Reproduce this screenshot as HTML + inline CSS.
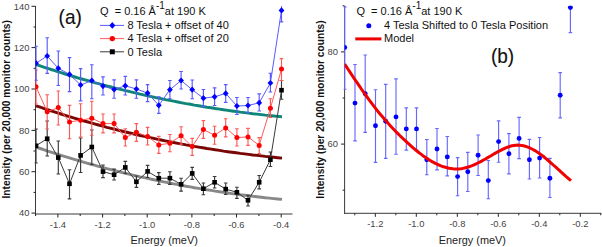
<!DOCTYPE html>
<html><head><meta charset="utf-8"><style>
html,body{margin:0;padding:0;background:#fff;width:602px;height:247px;overflow:hidden}
svg{display:block}
text{font-family:"Liberation Sans",sans-serif;fill:#111}
.tk{font-size:9.4px;fill:#444}
.al{font-size:10.9px;fill:#222}
.yl{font-size:10.2px;font-weight:bold;fill:#111}
.lg{font-size:11px;fill:#111}
.pl{font-size:20px;fill:#111;stroke:#111;stroke-width:0.15px}
</style></head><body>
<svg width="602" height="247" viewBox="0 0 602 247">
<defs><clipPath id="cl"><rect x="35.5" y="6.3" width="262" height="207.7"/></clipPath><clipPath id="cl2"><rect x="34.5" y="6.3" width="262" height="207.7"/></clipPath><clipPath id="cr2"><rect x="343.6" y="5.8" width="258" height="208"/></clipPath><clipPath id="cr"><rect x="344.6" y="5.8" width="258" height="208"/></clipPath></defs>
<path d="M35.5,6V214.5M35,214H292.5" stroke="#3a3a3a" stroke-width="1" fill="none"/>
<path d="M31.5,213.1H35.5M33.5,192.4H35.5M31.5,171.7H35.5M33.5,151.0H35.5M31.5,130.4H35.5M33.5,109.7H35.5M31.5,89.0H35.5M33.5,68.3H35.5M31.5,47.6H35.5M33.5,27.0H35.5M31.5,6.3H35.5M35.6,214V216M57.9,214V217.5M80.2,214V216M102.6,214V217.5M124.9,214V216M147.2,214V217.5M169.6,214V216M191.9,214V217.5M214.2,214V216M236.5,214V217.5M258.9,214V216M281.2,214V217.5" stroke="#222" stroke-width="1" fill="none"/>
<text x="29.5" y="216.2" text-anchor="end" class="tk">40</text>
<text x="29.5" y="174.9" text-anchor="end" class="tk">60</text>
<text x="29.5" y="133.6" text-anchor="end" class="tk">80</text>
<text x="29.5" y="92.2" text-anchor="end" class="tk">100</text>
<text x="29.5" y="50.9" text-anchor="end" class="tk">120</text>
<text x="29.5" y="9.5" text-anchor="end" class="tk">140</text>
<text x="57.9" y="227.5" text-anchor="middle" class="tk">-1.4</text>
<text x="102.6" y="227.5" text-anchor="middle" class="tk">-1.2</text>
<text x="147.2" y="227.5" text-anchor="middle" class="tk">-1.0</text>
<text x="191.9" y="227.5" text-anchor="middle" class="tk">-0.8</text>
<text x="236.5" y="227.5" text-anchor="middle" class="tk">-0.6</text>
<text x="281.2" y="227.5" text-anchor="middle" class="tk">-0.4</text>
<text x="164.2" y="244" text-anchor="middle" class="al">Energy (meV)</text>
<text transform="translate(10.3,109.3) rotate(-90)" text-anchor="middle" class="yl">Intensity (per 20,000 monitor counts)</text>
<text transform="translate(58.6,24.0) scale(0.95,1)" class="pl">(a)</text>
<g clip-path="url(#cl)"><path d="M36.0,64.5 L40.2,65.9 L44.3,67.3 L48.5,68.7 L52.7,70.0 L56.8,71.4 L61.0,72.7 L65.2,74.0 L69.4,75.3 L73.5,76.5 L77.7,77.8 L81.9,79.0 L86.0,80.2 L90.2,81.4 L94.4,82.6 L98.5,83.7 L102.7,84.8 L106.9,86.0 L111.1,87.0 L115.2,88.1 L119.4,89.2 L123.6,90.2 L127.7,91.2 L131.9,92.2 L136.1,93.2 L140.2,94.2 L144.4,95.1 L148.6,96.0 L152.7,96.9 L156.9,97.8 L161.1,98.7 L165.3,99.6 L169.4,100.4 L173.6,101.2 L177.8,102.0 L181.9,102.8 L186.1,103.6 L190.3,104.3 L194.4,105.1 L198.6,105.8 L202.8,106.5 L206.9,107.2 L211.1,107.8 L215.3,108.5 L219.5,109.1 L223.6,109.8 L227.8,110.4 L232.0,111.0 L236.1,111.5 L240.3,112.1 L244.5,112.6 L248.6,113.1 L252.8,113.7 L257.0,114.1 L261.2,114.6 L265.3,115.1 L269.5,115.5 L273.7,116.0 L277.8,116.4 L282.0,116.8" stroke="#0f857a" stroke-width="2.9" fill="none"/><path d="M36.0,105.8 L40.2,107.2 L44.3,108.6 L48.5,110.0 L52.7,111.3 L56.8,112.7 L61.0,114.0 L65.2,115.3 L69.4,116.6 L73.5,117.8 L77.7,119.1 L81.9,120.3 L86.0,121.5 L90.2,122.7 L94.4,123.9 L98.5,125.0 L102.7,126.1 L106.9,127.3 L111.1,128.3 L115.2,129.4 L119.4,130.5 L123.6,131.5 L127.7,132.5 L131.9,133.5 L136.1,134.5 L140.2,135.5 L144.4,136.4 L148.6,137.3 L152.7,138.2 L156.9,139.1 L161.1,140.0 L165.3,140.9 L169.4,141.7 L173.6,142.5 L177.8,143.3 L181.9,144.1 L186.1,144.9 L190.3,145.6 L194.4,146.4 L198.6,147.1 L202.8,147.8 L206.9,148.5 L211.1,149.1 L215.3,149.8 L219.5,150.4 L223.6,151.1 L227.8,151.7 L232.0,152.3 L236.1,152.8 L240.3,153.4 L244.5,153.9 L248.6,154.4 L252.8,155.0 L257.0,155.4 L261.2,155.9 L265.3,156.4 L269.5,156.8 L273.7,157.3 L277.8,157.7 L282.0,158.1" stroke="#7a0505" stroke-width="2.9" fill="none"/><path d="M36.0,147.1 L40.2,148.5 L44.3,149.9 L48.5,151.3 L52.7,152.6 L56.8,154.0 L61.0,155.3 L65.2,156.6 L69.4,157.9 L73.5,159.1 L77.7,160.4 L81.9,161.6 L86.0,162.8 L90.2,164.0 L94.4,165.2 L98.5,166.3 L102.7,167.4 L106.9,168.6 L111.1,169.6 L115.2,170.7 L119.4,171.8 L123.6,172.8 L127.7,173.8 L131.9,174.8 L136.1,175.8 L140.2,176.8 L144.4,177.7 L148.6,178.6 L152.7,179.5 L156.9,180.4 L161.1,181.3 L165.3,182.2 L169.4,183.0 L173.6,183.8 L177.8,184.6 L181.9,185.4 L186.1,186.2 L190.3,186.9 L194.4,187.7 L198.6,188.4 L202.8,189.1 L206.9,189.8 L211.1,190.4 L215.3,191.1 L219.5,191.7 L223.6,192.4 L227.8,193.0 L232.0,193.6 L236.1,194.1 L240.3,194.7 L244.5,195.2 L248.6,195.7 L252.8,196.3 L257.0,196.7 L261.2,197.2 L265.3,197.7 L269.5,198.1 L273.7,198.6 L277.8,199.0 L282.0,199.4" stroke="#888888" stroke-width="2.9" fill="none"/></g><g clip-path="url(#cl2)"><path d="M36.0,129.0V163.0M34.2,129.0H37.8M34.2,163.0H37.8M47.2,121.0V156.0M45.4,121.0H49.0M45.4,156.0H49.0M58.3,141.0V174.0M56.5,141.0H60.1M56.5,174.0H60.1M69.5,169.7V198.9M67.7,169.7H71.3M67.7,198.9H71.3M80.6,138.0V172.5M78.8,138.0H82.4M78.8,172.5H82.4M91.8,130.0V164.5M90.0,130.0H93.6M90.0,164.5H93.6M103.0,165.0V177.6M101.2,165.0H104.8M101.2,177.6H104.8M114.1,169.1V180.0M112.3,169.1H115.9M112.3,180.0H115.9M125.3,161.4V173.5M123.5,161.4H127.1M123.5,173.5H127.1M136.4,176.0V187.4M134.6,176.0H138.2M134.6,187.4H138.2M147.6,165.3V177.5M145.8,165.3H149.4M145.8,177.5H149.4M158.8,172.6V184.3M157.0,172.6H160.6M157.0,184.3H160.6M169.9,171.7V184.3M168.1,171.7H171.7M168.1,184.3H171.7M181.1,178.2V191.1M179.3,178.2H182.9M179.3,191.1H182.9M192.2,167.3V179.4M190.4,167.3H194.0M190.4,179.4H194.0M203.4,183.0V194.7M201.6,183.0H205.2M201.6,194.7H205.2M214.6,176.5V188.0M212.8,176.5H216.4M212.8,188.0H216.4M225.7,183.0V194.5M223.9,183.0H227.5M223.9,194.5H227.5M236.9,187.2V198.4M235.1,187.2H238.7M235.1,198.4H238.7M248.0,195.2V206.0M246.2,195.2H249.8M246.2,206.0H249.8M259.2,175.5V188.9M257.4,175.5H261.0M257.4,188.9H261.0M270.4,152.0V166.5M268.6,152.0H272.2M268.6,166.5H272.2M281.5,80.5V99.2M279.7,80.5H283.3M279.7,99.2H283.3" stroke="#3a3a3a" stroke-width="1.15" fill="none"/></g><g clip-path="url(#cl)"><polyline points="36.0,145.8 47.2,138.7 58.3,157.6 69.5,183.8 80.6,155.4 91.8,147.0 103.0,171.6 114.1,174.7 125.3,167.4 136.4,181.8 147.6,171.4 158.8,178.2 169.9,178.2 181.1,184.3 192.2,173.4 203.4,188.7 214.6,182.3 225.7,189.1 236.9,192.3 248.0,200.3 259.2,182.3 270.4,159.7 281.5,90.2" stroke="#3a3a3a" stroke-width="1" fill="none"/></g><g clip-path="url(#cl)"><rect x="33.7" y="143.5" width="4.6" height="4.6" fill="#000"/><rect x="44.9" y="136.4" width="4.6" height="4.6" fill="#000"/><rect x="56.0" y="155.3" width="4.6" height="4.6" fill="#000"/><rect x="67.2" y="181.5" width="4.6" height="4.6" fill="#000"/><rect x="78.3" y="153.1" width="4.6" height="4.6" fill="#000"/><rect x="89.5" y="144.7" width="4.6" height="4.6" fill="#000"/><rect x="100.7" y="169.3" width="4.6" height="4.6" fill="#000"/><rect x="111.8" y="172.4" width="4.6" height="4.6" fill="#000"/><rect x="123.0" y="165.1" width="4.6" height="4.6" fill="#000"/><rect x="134.1" y="179.5" width="4.6" height="4.6" fill="#000"/><rect x="145.3" y="169.1" width="4.6" height="4.6" fill="#000"/><rect x="156.5" y="175.9" width="4.6" height="4.6" fill="#000"/><rect x="167.6" y="175.9" width="4.6" height="4.6" fill="#000"/><rect x="178.8" y="182.0" width="4.6" height="4.6" fill="#000"/><rect x="189.9" y="171.1" width="4.6" height="4.6" fill="#000"/><rect x="201.1" y="186.4" width="4.6" height="4.6" fill="#000"/><rect x="212.3" y="180.0" width="4.6" height="4.6" fill="#000"/><rect x="223.4" y="186.8" width="4.6" height="4.6" fill="#000"/><rect x="234.6" y="190.0" width="4.6" height="4.6" fill="#000"/><rect x="245.7" y="198.0" width="4.6" height="4.6" fill="#000"/><rect x="256.9" y="180.0" width="4.6" height="4.6" fill="#000"/><rect x="268.1" y="157.4" width="4.6" height="4.6" fill="#000"/><rect x="279.2" y="87.9" width="4.6" height="4.6" fill="#000"/></g><g clip-path="url(#cl2)"><path d="M36.0,70.0V104.0M34.2,70.0H37.8M34.2,104.0H37.8M47.2,94.7V129.0M45.4,94.7H49.0M45.4,129.0H49.0M58.3,91.0V125.0M56.5,91.0H60.1M56.5,125.0H60.1M69.5,105.4V138.7M67.7,105.4H71.3M67.7,138.7H71.3M80.6,103.7V137.0M78.8,103.7H82.4M78.8,137.0H82.4M91.8,101.2V135.2M90.0,101.2H93.6M90.0,135.2H93.6M103.0,114.0V132.8M101.2,114.0H104.8M101.2,132.8H104.8M114.1,114.0V132.8M112.3,114.0H115.9M112.3,132.8H115.9M125.3,128.7V146.0M123.5,128.7H127.1M123.5,146.0H127.1M136.4,123.6V141.3M134.6,123.6H138.2M134.6,141.3H138.2M147.6,127.4V145.0M145.8,127.4H149.4M145.8,145.0H149.4M158.8,136.4V153.4M157.0,136.4H160.6M157.0,153.4H160.6M169.9,134.5V151.7M168.1,134.5H171.7M168.1,151.7H171.7M181.1,126.7V144.2M179.3,126.7H182.9M179.3,144.2H182.9M192.2,138.4V155.4M190.4,138.4H194.0M190.4,155.4H194.0M203.4,120.6V138.4M201.6,120.6H205.2M201.6,138.4H205.2M214.6,126.2V144.2M212.8,126.2H216.4M212.8,144.2H216.4M225.7,118.7V136.9M223.9,118.7H227.5M223.9,136.9H227.5M236.9,128.7V146.0M235.1,128.7H238.7M235.1,146.0H238.7M248.0,128.4V145.4M246.2,128.4H249.8M246.2,145.4H249.8M259.2,137.6V153.5M257.4,137.6H261.0M257.4,153.5H261.0M270.4,98.7V117.5M268.6,98.7H272.2M268.6,117.5H272.2M281.5,58.6V80.5M279.7,58.6H283.3M279.7,80.5H283.3" stroke="#ff5a5a" stroke-width="1.15" fill="none"/></g><g clip-path="url(#cl)"><polyline points="36.0,86.8 47.2,111.7 58.3,107.6 69.5,122.0 80.6,120.2 91.8,118.2 103.0,123.6 114.1,123.6 125.3,137.6 136.4,132.3 147.6,136.4 158.8,145.0 169.9,143.2 181.1,135.7 192.2,146.6 203.4,129.6 214.6,135.2 225.7,127.9 236.9,137.6 248.0,136.9 259.2,145.4 270.4,108.3 281.5,69.1" stroke="#ff5a5a" stroke-width="1" fill="none"/></g><g clip-path="url(#cl)"><circle cx="36.0" cy="86.8" r="2.5" fill="#ff0000"/><circle cx="47.2" cy="111.7" r="2.5" fill="#ff0000"/><circle cx="58.3" cy="107.6" r="2.5" fill="#ff0000"/><circle cx="69.5" cy="122.0" r="2.5" fill="#ff0000"/><circle cx="80.6" cy="120.2" r="2.5" fill="#ff0000"/><circle cx="91.8" cy="118.2" r="2.5" fill="#ff0000"/><circle cx="103.0" cy="123.6" r="2.5" fill="#ff0000"/><circle cx="114.1" cy="123.6" r="2.5" fill="#ff0000"/><circle cx="125.3" cy="137.6" r="2.5" fill="#ff0000"/><circle cx="136.4" cy="132.3" r="2.5" fill="#ff0000"/><circle cx="147.6" cy="136.4" r="2.5" fill="#ff0000"/><circle cx="158.8" cy="145.0" r="2.5" fill="#ff0000"/><circle cx="169.9" cy="143.2" r="2.5" fill="#ff0000"/><circle cx="181.1" cy="135.7" r="2.5" fill="#ff0000"/><circle cx="192.2" cy="146.6" r="2.5" fill="#ff0000"/><circle cx="203.4" cy="129.6" r="2.5" fill="#ff0000"/><circle cx="214.6" cy="135.2" r="2.5" fill="#ff0000"/><circle cx="225.7" cy="127.9" r="2.5" fill="#ff0000"/><circle cx="236.9" cy="137.6" r="2.5" fill="#ff0000"/><circle cx="248.0" cy="136.9" r="2.5" fill="#ff0000"/><circle cx="259.2" cy="145.4" r="2.5" fill="#ff0000"/><circle cx="270.4" cy="108.3" r="2.5" fill="#ff0000"/><circle cx="281.5" cy="69.1" r="2.5" fill="#ff0000"/></g><g clip-path="url(#cl2)"><path d="M36.0,46.2V80.2M34.2,46.2H37.8M34.2,80.2H37.8M47.2,37.7V73.4M45.4,37.7H49.0M45.4,73.4H49.0M58.3,51.0V85.5M56.5,51.0H60.1M56.5,85.5H60.1M69.5,57.6V91.6M67.7,57.6H71.3M67.7,91.6H71.3M80.6,68.6V100.8M78.8,68.6H82.4M78.8,100.8H82.4M91.8,64.7V98.7M90.0,64.7H93.6M90.0,98.7H93.6M103.0,76.9V95.0M101.2,76.9H104.8M101.2,95.0H104.8M114.1,79.8V98.2M112.3,79.8H115.9M112.3,98.2H115.9M125.3,76.4V95.0M123.5,76.4H127.1M123.5,95.0H127.1M136.4,79.8V98.2M134.6,79.8H138.2M134.6,98.2H138.2M147.6,84.6V101.6M145.8,84.6H149.4M145.8,101.6H149.4M158.8,96.8V113.3M157.0,96.8H160.6M157.0,113.3H160.6M169.9,80.5V98.7M168.1,80.5H171.7M168.1,98.7H171.7M181.1,71.5V89.0M179.3,71.5H182.9M179.3,89.0H182.9M192.2,80.0V98.7M190.4,80.0H194.0M190.4,98.7H194.0M203.4,89.5V106.5M201.6,89.5H205.2M201.6,106.5H205.2M214.6,87.8V105.5M212.8,87.8H216.4M212.8,105.5H216.4M225.7,84.6V102.4M223.9,84.6H227.5M223.9,102.4H227.5M236.9,97.5V114.5M235.1,97.5H238.7M235.1,114.5H238.7M248.0,97.5V112.5M246.2,97.5H249.8M246.2,112.5H249.8M259.2,93.9V111.0M257.4,93.9H261.0M257.4,111.0H261.0M270.4,73.2V92.0M268.6,73.2H272.2M268.6,92.0H272.2M281.5,-1.0V21.9M279.7,-1.0H283.3M279.7,21.9H283.3" stroke="#5a5aff" stroke-width="1.15" fill="none"/></g><g clip-path="url(#cl)"><polyline points="36.0,63.2 47.2,56.0 58.3,68.3 69.5,74.4 80.6,85.0 91.8,80.5 103.0,86.1 114.1,89.5 125.3,85.8 136.4,89.0 147.6,93.1 158.8,105.3 169.9,89.7 181.1,80.5 192.2,89.7 203.4,98.2 214.6,96.8 225.7,93.4 236.9,106.0 248.0,105.5 259.2,102.8 270.4,83.0 281.5,10.4" stroke="#5a5aff" stroke-width="1" fill="none"/></g><g clip-path="url(#cl)"><path d="M36.0,60.1L38.9,63.2L36.0,66.3L33.1,63.2Z" fill="#0000ff"/><path d="M47.2,52.9L50.1,56.0L47.2,59.1L44.3,56.0Z" fill="#0000ff"/><path d="M58.3,65.2L61.2,68.3L58.3,71.4L55.4,68.3Z" fill="#0000ff"/><path d="M69.5,71.3L72.4,74.4L69.5,77.5L66.6,74.4Z" fill="#0000ff"/><path d="M80.6,81.9L83.5,85.0L80.6,88.1L77.7,85.0Z" fill="#0000ff"/><path d="M91.8,77.4L94.7,80.5L91.8,83.6L88.9,80.5Z" fill="#0000ff"/><path d="M103.0,83.0L105.9,86.1L103.0,89.2L100.1,86.1Z" fill="#0000ff"/><path d="M114.1,86.4L117.0,89.5L114.1,92.6L111.2,89.5Z" fill="#0000ff"/><path d="M125.3,82.7L128.2,85.8L125.3,88.9L122.4,85.8Z" fill="#0000ff"/><path d="M136.4,85.9L139.3,89.0L136.4,92.1L133.5,89.0Z" fill="#0000ff"/><path d="M147.6,90.0L150.5,93.1L147.6,96.2L144.7,93.1Z" fill="#0000ff"/><path d="M158.8,102.2L161.7,105.3L158.8,108.4L155.9,105.3Z" fill="#0000ff"/><path d="M169.9,86.6L172.8,89.7L169.9,92.8L167.0,89.7Z" fill="#0000ff"/><path d="M181.1,77.4L184.0,80.5L181.1,83.6L178.2,80.5Z" fill="#0000ff"/><path d="M192.2,86.6L195.1,89.7L192.2,92.8L189.3,89.7Z" fill="#0000ff"/><path d="M203.4,95.1L206.3,98.2L203.4,101.3L200.5,98.2Z" fill="#0000ff"/><path d="M214.6,93.7L217.5,96.8L214.6,99.9L211.7,96.8Z" fill="#0000ff"/><path d="M225.7,90.3L228.6,93.4L225.7,96.5L222.8,93.4Z" fill="#0000ff"/><path d="M236.9,102.9L239.8,106.0L236.9,109.1L234.0,106.0Z" fill="#0000ff"/><path d="M248.0,102.4L250.9,105.5L248.0,108.6L245.1,105.5Z" fill="#0000ff"/><path d="M259.2,99.7L262.1,102.8L259.2,105.9L256.3,102.8Z" fill="#0000ff"/><path d="M270.4,79.9L273.3,83.0L270.4,86.1L267.5,83.0Z" fill="#0000ff"/><path d="M281.5,7.3L284.4,10.4L281.5,13.5L278.6,10.4Z" fill="#0000ff"/></g>
<text x="100" y="15" class="lg">Q&#160; = 0.16 &#197;<tspan dy="-6.5" font-size="10px">-1</tspan><tspan dy="6.5">at 190 K</tspan></text>
<path d="M100,25.4H124" stroke="#5a5aff" stroke-width="1"/>
<path d="M112.3,22.099999999999998L115.3,25.4L112.3,28.7L109.3,25.4Z" fill="#0000ff"/>
<text x="127.4" y="29.2" class="lg">8 Tesla + offset of 40</text>
<path d="M100,38.6H124" stroke="#ff5a5a" stroke-width="1"/>
<circle cx="112.3" cy="38.6" r="2.7" fill="#ff0000"/>
<text x="127.4" y="42.4" class="lg">4 Tesla + offset of 20</text>
<path d="M100,51.8H124" stroke="#3a3a3a" stroke-width="1"/>
<rect x="109.8" y="49.3" width="5" height="5" fill="#000"/>
<text x="127.4" y="55.599999999999994" class="lg">0 Tesla</text>
<path d="M344.6,6V213.8M344.1,213.3H601.3" stroke="#3a3a3a" stroke-width="1" fill="none"/>
<path d="M342.6,190.2H344.6M341.1,144.1H344.6M342.6,98.0H344.6M341.1,51.9H344.6M342.6,5.8H344.6M354.8,213.3V215.3M375.3,213.3V216.8M395.8,213.3V215.3M416.3,213.3V216.8M436.8,213.3V215.3M457.3,213.3V216.8M477.8,213.3V215.3M498.3,213.3V216.8M518.8,213.3V215.3M539.3,213.3V216.8M559.8,213.3V215.3M580.3,213.3V216.8M600.8,213.3V215.3" stroke="#222" stroke-width="1" fill="none"/>
<g clip-path="url(#cr2)"><path d="M344.7,6.8V89.2M342.9,6.8H346.5M342.9,89.2H346.5M355.0,64.5V140.9M353.2,64.5H356.8M353.2,140.9H356.8M365.2,55.0V132.4M363.4,55.0H367.0M363.4,132.4H367.0M375.5,89.7V162.3M373.7,89.7H377.3M373.7,162.3H377.3M385.7,84.3V158.4M383.9,84.3H387.5M383.9,158.4H387.5M396.0,78.9V154.2M394.2,78.9H397.8M394.2,154.2H397.8M406.3,107.9V150.1M404.5,107.9H408.1M404.5,150.1H408.1M416.5,107.9V150.1M414.7,107.9H418.3M414.7,150.1H418.3M426.8,139.5V174.7M425.0,139.5H428.6M425.0,174.7H428.6M437.0,128.5V169.8M435.2,128.5H438.8M435.2,169.8H438.8M447.3,136.5V175.9M445.5,136.5H449.1M445.5,175.9H449.1M457.6,157.6V195.7M455.8,157.6H459.4M455.8,195.7H459.4M467.8,152.3V191.5M466.0,152.3H469.6M466.0,191.5H469.6M478.1,135.0V175.5M476.3,135.0H479.9M476.3,175.5H479.9M488.3,160.5V198.7M486.5,160.5H490.1M486.5,198.7H490.1M498.6,120.9V162.2M496.8,120.9H500.4M496.8,162.2H500.4M508.9,133.6V173.8M507.1,133.6H510.7M507.1,173.8H510.7M519.1,117.3V158.6M517.3,117.3H520.9M517.3,158.6H520.9M529.4,139.3V179.0M527.6,139.3H531.2M527.6,179.0H531.2M539.6,137.5V178.0M537.8,137.5H541.4M537.8,178.0H541.4M549.9,158.3V197.5M548.1,158.3H551.7M548.1,197.5H551.7M560.2,72.6V117.8M558.4,72.6H562.0M558.4,117.8H562.0M570.4,-20.0V32.6M568.6,-20.0H572.2M568.6,32.6H572.2" stroke="#6868ff" stroke-width="1.15" fill="none"/></g><g clip-path="url(#cr)"><circle cx="344.7" cy="47.5" r="2.45" fill="#0000ff"/><circle cx="355.0" cy="103.1" r="2.45" fill="#0000ff"/><circle cx="365.2" cy="93.8" r="2.45" fill="#0000ff"/><circle cx="375.5" cy="125.7" r="2.45" fill="#0000ff"/><circle cx="385.7" cy="121.3" r="2.45" fill="#0000ff"/><circle cx="396.0" cy="116.9" r="2.45" fill="#0000ff"/><circle cx="406.3" cy="128.9" r="2.45" fill="#0000ff"/><circle cx="416.5" cy="128.9" r="2.45" fill="#0000ff"/><circle cx="426.8" cy="159.7" r="2.45" fill="#0000ff"/><circle cx="437.0" cy="149.0" r="2.45" fill="#0000ff"/><circle cx="447.3" cy="156.9" r="2.45" fill="#0000ff"/><circle cx="457.6" cy="176.6" r="2.45" fill="#0000ff"/><circle cx="467.8" cy="171.7" r="2.45" fill="#0000ff"/><circle cx="478.1" cy="155.3" r="2.45" fill="#0000ff"/><circle cx="488.3" cy="180.6" r="2.45" fill="#0000ff"/><circle cx="498.6" cy="141.6" r="2.45" fill="#0000ff"/><circle cx="508.9" cy="153.7" r="2.45" fill="#0000ff"/><circle cx="519.1" cy="138.4" r="2.45" fill="#0000ff"/><circle cx="529.4" cy="159.7" r="2.45" fill="#0000ff"/><circle cx="539.6" cy="158.1" r="2.45" fill="#0000ff"/><circle cx="549.9" cy="178.2" r="2.45" fill="#0000ff"/><circle cx="560.2" cy="95.2" r="2.45" fill="#0000ff"/><circle cx="570.4" cy="7.5" r="2.45" fill="#0000ff"/></g><g clip-path="url(#cr)"><path d="M344.6,64.0 L346.5,66.9 L348.4,69.8 L350.3,72.6 L352.2,75.5 L354.1,78.3 L356.0,81.1 L357.9,83.9 L359.8,86.7 L361.7,89.5 L363.6,92.2 L365.5,94.9 L367.4,97.5 L369.3,100.1 L371.2,102.7 L373.1,105.2 L375.0,107.7 L376.9,110.1 L378.8,112.5 L380.7,114.8 L382.7,117.1 L384.6,119.3 L386.5,121.4 L388.4,123.6 L390.3,125.7 L392.2,127.7 L394.1,129.7 L396.0,131.7 L397.9,133.6 L399.8,135.5 L401.7,137.3 L403.6,139.2 L405.5,140.9 L407.4,142.7 L409.3,144.4 L411.2,146.1 L413.1,147.8 L415.0,149.4 L416.9,151.0 L418.8,152.5 L420.7,153.9 L422.6,155.4 L424.5,156.7 L426.4,158.0 L428.3,159.3 L430.2,160.5 L432.1,161.6 L434.0,162.6 L435.9,163.6 L437.8,164.5 L439.7,165.3 L441.6,166.1 L443.5,166.8 L445.4,167.3 L447.3,167.8 L449.2,168.2 L451.1,168.6 L453.0,168.8 L454.9,168.9 L456.8,168.9 L458.8,168.9 L460.7,168.7 L462.6,168.4 L464.5,168.0 L466.4,167.5 L468.3,167.0 L470.2,166.3 L472.1,165.6 L474.0,164.8 L475.9,164.0 L477.8,163.0 L479.7,162.1 L481.6,161.1 L483.5,160.0 L485.4,159.0 L487.3,157.9 L489.2,156.8 L491.1,155.7 L493.0,154.5 L494.9,153.4 L496.8,152.4 L498.7,151.3 L500.6,150.3 L502.5,149.3 L504.4,148.5 L506.3,147.7 L508.2,147.0 L510.1,146.3 L512.0,145.8 L513.9,145.5 L515.8,145.2 L517.7,145.1 L519.6,145.2 L521.5,145.4 L523.4,145.8 L525.3,146.3 L527.2,146.9 L529.1,147.6 L531.0,148.5 L532.9,149.5 L534.9,150.6 L536.8,151.8 L538.7,153.1 L540.6,154.4 L542.5,155.8 L544.4,157.3 L546.3,158.9 L548.2,160.5 L550.1,162.1 L552.0,163.8 L553.9,165.5 L555.8,167.2 L557.7,168.9 L559.6,170.6 L561.5,172.4 L563.4,174.1 L565.3,175.8 L567.2,177.5 L569.1,179.1 L571.0,180.7" stroke="#f00000" stroke-width="3.0" fill="none" stroke-linejoin="round"/></g>
<text x="338" y="147.3" text-anchor="end" class="tk">60</text>
<text x="338" y="55.1" text-anchor="end" class="tk">80</text>
<text x="375.3" y="227" text-anchor="middle" class="tk">-1.2</text>
<text x="416.3" y="227" text-anchor="middle" class="tk">-1.0</text>
<text x="457.3" y="227" text-anchor="middle" class="tk">-0.8</text>
<text x="498.3" y="227" text-anchor="middle" class="tk">-0.6</text>
<text x="539.3" y="227" text-anchor="middle" class="tk">-0.4</text>
<text x="580.3" y="227" text-anchor="middle" class="tk">-0.2</text>
<text x="472.4" y="244" text-anchor="middle" class="al">Energy (meV)</text>
<text transform="translate(324.1,109.5) rotate(-90)" text-anchor="middle" class="yl">Intensity (per 20,000 monitor counts)</text>
<text transform="translate(490.9,62.9) scale(0.95,1)" class="pl">(b)</text>
<text x="356.4" y="15" class="lg">Q&#160; = 0.16 &#197;<tspan dy="-6.5" font-size="10px">-1</tspan><tspan dy="6.5">at 190 K</tspan></text>
<circle cx="368.8" cy="25.8" r="2.5" fill="#0000ff"/>
<text x="384.0" y="29.2" class="lg">4 Tesla Shifted to 0 Tesla Position</text>
<path d="M355.3,38.9H381.4" stroke="#ee0000" stroke-width="3"/>
<text x="384.0" y="42.4" class="lg">Model</text>
</svg>
</body></html>
